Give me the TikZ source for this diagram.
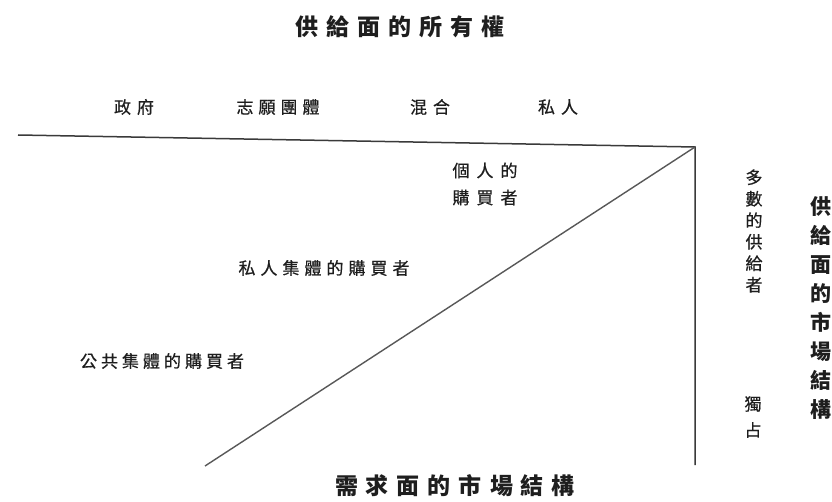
\documentclass[tikz,border=0pt]{standalone}
\usepackage{fontspec}
\newfontfamily\cjk{Noto Sans CJK TC}[FakeBold=0.5]
\newfontfamily\cjkt{Noto Sans CJK TC}
\makeatletter
\def\lsp#1#2{\def\lsp@k{#1}\lsp@a#2\@nil}
\def\lsp@a#1#2\@nil{#1\ifx\relax#2\relax\else\kern\lsp@k\lsp@a#2\@nil\fi}
\makeatother
\definecolor{ink}{HTML}{1E1E1E}
\definecolor{rule}{HTML}{3A3A3A}
\tikzset{
  lbl/.style={inner sep=0pt, text=ink, font=\cjk\fontsize{17}{20}\selectfont},
  ttl/.style={inner sep=0pt, text=ink, font=\cjkt\bfseries\fontsize{23}{27}\selectfont},
  axis/.style={draw=rule, line width=1.5pt},
  diag/.style={draw=rule!85, line width=1.4pt}
}
\begin{document}
\begin{tikzpicture}[x=1pt,y=-1pt]
\useasboundingbox[fill=white] (0,0) rectangle (832,502);
\coordinate (L) at (18,135);
\coordinate (C) at (695,147);
\coordinate (B) at (695,465);
\coordinate (D) at (205,466);
\draw[axis] (L) -- (C) -- (B);
\draw[diag] (C) -- (D);

\node[ttl] (t1) at (400,27) {\lsp{8pt}{供給面的所有權}};
\node[ttl] (t2) at (455,486) {\lsp{8pt}{需求面的市場結構}};

\node[lbl] (o1) at (134,107) {\lsp{6pt}{政府}};
\node[lbl] (o2) at (278,107) {\lsp{5pt}{志願團體}};
\node[lbl] (o3) at (430,107) {\lsp{6pt}{混合}};
\node[lbl] (o4) at (558,107) {\lsp{6pt}{私人}};

\node[lbl, align=left, font=\cjk\fontsize{17}{27}\selectfont] (d1) at (485,184) {\lsp{7pt}{個人的}\\\lsp{7pt}{購買者}};
\node[lbl] (d2) at (324,268) {\lsp{5pt}{私人集體的購買者}};
\node[lbl] (d3) at (162,361) {\lsp{4pt}{公共集體的購買者}};

\node[lbl, align=center, font=\cjk\fontsize{17}{21.5}\selectfont] (s1) at (754,231) {多\\數\\的\\供\\給\\者};
\node[lbl, align=center, font=\cjk\fontsize{17}{26}\selectfont] (s2) at (753,417) {獨\\占};
\node[ttl, align=center, font=\cjkt\bfseries\fontsize{21}{29}\selectfont] (s3) at (821,308) {供\\給\\面\\的\\市\\場\\結\\構};
\end{tikzpicture}
\end{document}
